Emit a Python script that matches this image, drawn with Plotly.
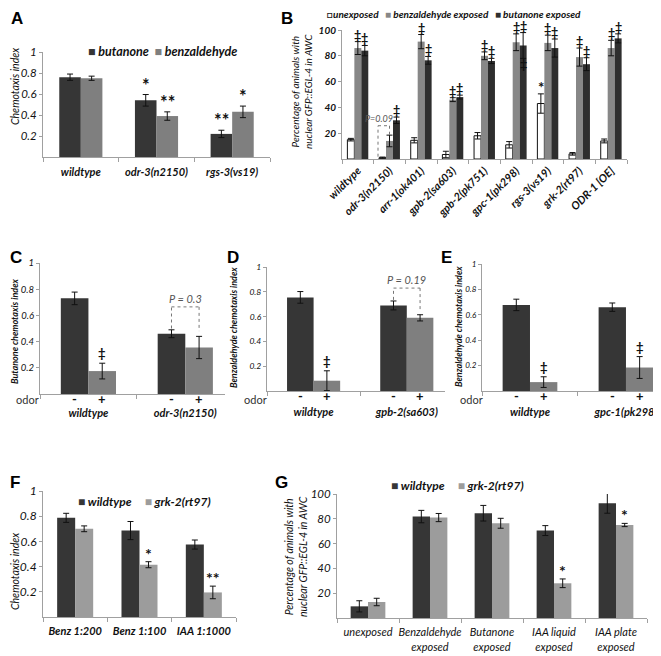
import plotly.graph_objects as go

# ---------------- data ----------------
A_CATS = ["wildtype", "odr-3(n2150)", "rgs-3(vs19)"]
A_BUTANONE = [0.76, 0.54, 0.22]
A_BUTANONE_ERR = [0.03, 0.055, 0.035]
A_BENZ = [0.75, 0.39, 0.43]
A_BENZ_ERR = [0.02, 0.04, 0.055]
A_BUTANONE_SIG = ["", "*", "**"]
A_BENZ_SIG = ["", "**", "*"]

B_CATS = ["wildtype", "odr-3(n2150)", "arr-1(ok401)", "gpb-2(sa603)", "gpb-2(pk751)",
          "gpc-1(pk298)", "rgs-3(vs19)", "grk-2(rt97)", "ODR-1 [OE]"]
B_UNEXP = [15, 1, 14.5, 3.5, 18, 11, 43, 4, 14]
B_UNEXP_ERR = [1, 0.5, 2, 2.5, 2.5, 2.5, 7.5, 1, 1.5]
B_BENZ = [86, 14, 91, 46, 80, 90.5, 90, 79, 86]
B_BENZ_ERR = [5, 4.5, 5.5, 1.5, 3, 6.5, 6, 7, 6]
B_BUT = [84, 30, 76.5, 48, 76, 88, 86, 73.5, 93.5]
B_BUT_ERR = [4, 2.5, 3, 1.5, 2, 10, 7, 5, 3.5]
B_UNEXP_SIG = ["", "", "", "", "", "", "*", "", ""]
B_BENZ_SIG = ["‡", "", "‡", "‡", "‡", "‡", "‡", "‡", "‡"]
B_BUT_SIG = ["‡", "‡", "‡", "‡", "‡", "‡", "‡", "‡", "‡"]
B_P = "P=0.09"

C_CATS = ["wildtype", "odr-3(n2150)"]
C_MINUS = [0.73, 0.46]
C_MINUS_ERR = [0.048, 0.03]
C_PLUS = [0.175, 0.355]
C_PLUS_ERR = [0.06, 0.085]
C_PLUS_SIG = ["‡", ""]
C_P = "P = 0.3"

D_CATS = ["wildtype", "gpb-2(sa603)"]
D_MINUS = [0.755, 0.69]
D_MINUS_ERR = [0.047, 0.036]
D_PLUS = [0.083, 0.59]
D_PLUS_ERR = [0.08, 0.025]
D_PLUS_SIG = ["‡", ""]
D_P = "P = 0.19"

E_CATS = ["wildtype", "gpc-1(pk298)"]
E_MINUS = [0.678, 0.66]
E_MINUS_ERR = [0.045, 0.033]
E_PLUS = [0.07, 0.185]
E_PLUS_ERR = [0.042, 0.086]
E_PLUS_SIG = ["‡", "‡"]

F_CATS = ["Benz 1:200", "Benz 1:100", "IAA 1:1000"]
F_WT = [0.787, 0.686, 0.575]
F_WT_ERR = [0.036, 0.072, 0.036]
F_GRK = [0.70, 0.415, 0.195]
F_GRK_ERR = [0.023, 0.024, 0.05]
F_GRK_SIG = ["", "*", "**"]

G_CATS = ["unexposed", "Benzaldehyde exposed", "Butanone exposed",
          "IAA liquid exposed", "IAA plate exposed"]
G_TICKTEXT = ["unexposed", "Benzaldehyde<br>exposed", "Butanone<br>exposed",
              "IAA liquid<br>exposed", "IAA plate<br>exposed"]
G_WT = [9.4, 81.8, 84.5, 70.5, 92.5]
G_WT_ERR = [4.5, 5, 6.3, 4, 8]
G_GRK = [12.9, 81, 76.4, 28, 75]
G_GRK_ERR = [3, 3.3, 4, 3.5, 1.3]
G_GRK_SIG = ["", "", "", "*", "*"]

IDX_TICKS = [0.2, 0.4, 0.6, 0.8, 1]
IDX_TICKTEXT = ["0.2", "0.4", "0.6", "0.8", "1"]
PCT_TICKS = [20, 40, 60, 80, 100]
PCT_TICKTEXT = ["20", "40", "60", "80", "100"]

# ---------------- style ----------------
PAGE_W, PAGE_H = 661, 656
BODY = 8  # default <body> margin of the page that write_html produces
W, H = PAGE_W - BODY, PAGE_H - BODY
FONT = "Lato"
INK = "#111111"
DARK = "#363636"
GRAY = "#7f7f7f"
LIGHT = "#9c9c9c"
B_GRAY = "#878787"
B_DARK = "#2e2e2e"
AXIS = "#a0a0a0"


def px(x):  # page pixel -> paper fraction
    return (x - BODY) / W


def py(y):
    return 1 - (y - BODY) / H


def f(size, bold=False, italic=True, color=INK):
    return dict(family=FONT, size=size, color=color,
                weight="bold" if bold else "normal",
                style="italic" if italic else "normal")


def ax_id(n):
    return "" if n == 1 else str(n)


fig = go.Figure()


def add_bar(n, cats, vals, errs, color, offset, width, outline=None):
    a = ax_id(n)
    fig.add_trace(go.Bar(
        x=cats, y=vals, xaxis="x" + a, yaxis="y" + a,
        offset=offset, width=width,
        marker=dict(color=color,
                    line=dict(color=outline or color, width=1 if outline else 0)),
        error_y=dict(type="data", array=errs, color=INK, thickness=1, width=3),
        showlegend=False))


def add_sig(n, labels, vals, errs, center, size, yshift=-3):
    a = ax_id(n)
    for i, (t, v, e) in enumerate(zip(labels, vals, errs)):
        if t:
            fig.add_annotation(x=i + center, y=v + e, xref="x" + a, yref="y" + a,
                               text=t, showarrow=False, yanchor="bottom",
                               yshift=yshift, font=f(size, bold=True, italic=False))


def add_axes(n, xpx, ypx, cats, xmax, ticks, ticktext, xfont, yfont,
             tickangle=0, standoff=0, xticktext=None):
    a = ax_id(n)
    xa = dict(domain=[px(xpx[0]), min(px(xpx[1]), 1)], anchor="y" + a, type="category",
              categoryorder="array", categoryarray=cats, range=[-0.5, xmax],
              showline=True, linecolor=AXIS, linewidth=1, ticks="outside",
              tickson="boundaries", ticklen=4, tickcolor=AXIS, showgrid=False,
              zeroline=False, tickfont=xfont, tickangle=tickangle,
              ticklabelstandoff=standoff, automargin=False, fixedrange=True)
    if xticktext is not None:
        xa.update(tickmode="array", tickvals=cats, ticktext=xticktext)
    ya = dict(domain=[py(ypx[1]), py(ypx[0])], anchor="x" + a,
              range=[0, ticks[-1]], tickmode="array", tickvals=ticks, ticktext=ticktext,
              showline=True, linecolor=AXIS, linewidth=1, ticks="outside", ticklen=3,
              tickcolor=AXIS, showgrid=False, zeroline=False, tickfont=yfont,
              automargin=False, fixedrange=True)
    fig.update_layout({"xaxis" + a: xa, "yaxis" + a: ya})


def paper_text(x, y, text, font, angle=0, xanchor="center"):
    fig.add_annotation(x=px(x), y=py(y), xref="paper", yref="paper", text=text,
                       showarrow=False, textangle=angle, xanchor=xanchor,
                       yanchor="middle", font=font)


def bracket(n, x0, x1, y0, ytop, y1, label, size, lx=None):
    a = ax_id(n)
    line = dict(color="#777777", width=1, dash="dot")
    for xs, ys in (((x0, x0), (y0, ytop)), ((x0, x1), (ytop, ytop)), ((x1, x1), (ytop, y1))):
        fig.add_shape(type="line", xref="x" + a, yref="y" + a, x0=xs[0], x1=xs[1],
                      y0=ys[0], y1=ys[1], line=line)
    fig.add_annotation(x=(x0 + x1) / 2 if lx is None else lx, y=ytop, xref="x" + a,
                       yref="y" + a, text=label, showarrow=False, yanchor="bottom",
                       font=f(size, italic=True, color="#555555"))


def legend_key(x, y, items, size):
    parts = []
    for glyph, color, label in items:
        parts.append(f'<span style="color:{color}">{glyph}</span>{label}')
    paper_text(x, y, " ".join(parts), f(size, bold=True), xanchor="left")


def odor_row(n, cats, odor_x, w):
    a = ax_id(n)
    for i in range(len(cats)):
        for sign, dxp in (("-", -w / 2), ("+", w / 2)):
            fig.add_annotation(x=i + dxp, y=0, xref="x" + a, yref="y" + a, text=sign,
                               showarrow=False, yanchor="middle", yshift=-5,
                               font=f(13, bold=True, italic=False))
    paper_text(odor_x, 399, "odor", f(11, italic=False, color="#333333"))


BW = 0.285

# ---------------- A ----------------
add_bar(1, A_CATS, A_BUTANONE, A_BUTANONE_ERR, DARK, -BW, BW)
add_bar(1, A_CATS, A_BENZ, A_BENZ_ERR, GRAY, 0, BW)
add_sig(1, A_BUTANONE_SIG, A_BUTANONE, A_BUTANONE_ERR, -BW / 2, 18)
add_sig(1, A_BENZ_SIG, A_BENZ, A_BENZ_ERR, BW / 2, 18)
add_axes(1, (43, 270), (52, 157), A_CATS, 2.5, IDX_TICKS, IDX_TICKTEXT,
         f(11, bold=True), f(11.5), standoff=5)
paper_text(15, 87, "Chemotaxis index", f(10.5), angle=-90)
legend_key(86, 52, [("■", DARK, " butanone "), ("■", GRAY, " benzaldehyde")], 12.5)

# ---------------- B ----------------
BB = 0.22
add_bar(2, B_CATS, B_UNEXP, B_UNEXP_ERR, "white", -1.5 * BB, BB, outline=INK)
add_bar(2, B_CATS, B_BENZ, B_BENZ_ERR, B_GRAY, -0.5 * BB, BB)
add_bar(2, B_CATS, B_BUT, B_BUT_ERR, B_DARK, 0.5 * BB, BB)
add_sig(2, B_UNEXP_SIG, B_UNEXP, B_UNEXP_ERR, -BB, 15, yshift=-4)
add_sig(2, B_BENZ_SIG, B_BENZ, B_BENZ_ERR, 0, 12.5, yshift=-3)
add_sig(2, B_BUT_SIG, B_BUT, B_BUT_ERR, BB, 12.5, yshift=-3)
fig.add_annotation(x=5 + BB, y=73, xref="x2", yref="y2", text="‡", showarrow=False,
                   font=f(12.5, bold=True, italic=False))
add_axes(2, (342, 627), (30, 159), B_CATS, 8.5, PCT_TICKS, PCT_TICKTEXT,
         f(11, bold=True), f(10, bold=True), tickangle=-45)
paper_text(301, 92, "Percentage of animals with<br>nuclear GFP::EGL-4 in AWC",
           f(10), angle=-90)
legend_key(325, 14.5, [("□", INK, "unexposed  "), ("■", B_GRAY, " benzaldehyde exposed  "),
                       ("■", B_DARK, " butanone exposed")], 10)
bracket(2, 1 - 1.65 * BB, 1, 1.8, 25.8, 17.3, B_P, 9, lx=0.66)

# ---------------- C ----------------
add_bar(3, C_CATS, C_MINUS, C_MINUS_ERR, DARK, -BW, BW)
add_bar(3, C_CATS, C_PLUS, C_PLUS_ERR, GRAY, 0, BW)
add_sig(3, C_PLUS_SIG, C_PLUS, C_PLUS_ERR, BW / 2, 13, yshift=0)
add_axes(3, (40, 225), (263, 394), C_CATS, 1.41, IDX_TICKS, IDX_TICKTEXT,
         f(11, bold=True), f(9.5), standoff=9)
paper_text(14, 331, "Butanone chemotaxis index", f(9, bold=True), angle=-90)
odor_row(3, C_CATS, 27, BW)
bracket(3, 1 - BW / 2, 1 + BW / 2, 0.5, 0.665, 0.48, C_P, 11)

# ---------------- D ----------------
add_bar(4, D_CATS, D_MINUS, D_MINUS_ERR, DARK, -BW, BW)
add_bar(4, D_CATS, D_PLUS, D_PLUS_ERR, GRAY, 0, BW)
add_sig(4, D_PLUS_SIG, D_PLUS, D_PLUS_ERR, BW / 2, 13, yshift=0)
add_axes(4, (267, 445), (267, 391), D_CATS, 1.41, IDX_TICKS, IDX_TICKTEXT,
         f(11, bold=True), f(8.5), standoff=11)
paper_text(233, 328, "Benzaldehyde chemotaxis index", f(9, bold=True), angle=-90)
odor_row(4, D_CATS, 255, BW)
bracket(4, 1 - BW / 2, 1 + BW / 2, 0.735, 0.83, 0.637, D_P, 11)

# ---------------- E ----------------
add_bar(5, E_CATS, E_MINUS, E_MINUS_ERR, DARK, -BW, BW)
add_bar(5, E_CATS, E_PLUS, E_PLUS_ERR, GRAY, 0, BW)
add_sig(5, E_PLUS_SIG, E_PLUS, E_PLUS_ERR, BW / 2, 13, yshift=0)
add_axes(5, (482, 661), (264, 391), E_CATS, 1.365, IDX_TICKS, IDX_TICKTEXT,
         f(11, bold=True), f(8), standoff=11)
paper_text(458, 327, "Benzaldehyde chemotaxis index", f(9, bold=True), angle=-90)
odor_row(5, E_CATS, 471, BW)

# ---------------- F ----------------
FW = 0.28
add_bar(6, F_CATS, F_WT, F_WT_ERR, DARK, -FW, FW)
add_bar(6, F_CATS, F_GRK, F_GRK_ERR, LIGHT, 0, FW)
add_sig(6, F_GRK_SIG, F_GRK, F_GRK_ERR, FW / 2, 16)
add_axes(6, (43, 236), (491, 617), F_CATS, 2.5, IDX_TICKS, IDX_TICKTEXT,
         f(11, bold=True), f(12), standoff=4)
paper_text(15, 572, "Chemotaxis index", f(10.5), angle=-90)
legend_key(76, 501, [("■", DARK, " wildtype    "), ("■", LIGHT, " grk-2(rt97)")], 12)

# ---------------- G ----------------
add_bar(7, G_CATS, G_WT, G_WT_ERR, DARK, -FW, FW)
add_bar(7, G_CATS, G_GRK, G_GRK_ERR, LIGHT, 0, FW)
add_sig(7, G_GRK_SIG, G_GRK, G_GRK_ERR, FW / 2, 16)
add_axes(7, (337, 647), (494, 618), G_CATS, 4.5, PCT_TICKS, PCT_TICKTEXT,
         f(11), f(11.5), standoff=4, xticktext=G_TICKTEXT)
paper_text(296, 557, "Percentage of animals with<br>nuclear GFP::EGL-4 in AWC",
           f(10.5), angle=-90)
legend_key(389, 485, [("■", DARK, " wildtype    "), ("■", LIGHT, " grk-2(rt97)")], 12)

# ---------------- panel letters ----------------
for letter, x, y in (("A", 9, 19), ("B", 279, 19), ("C", 8, 257), ("D", 225, 257),
                     ("E", 439, 257), ("F", 8, 482), ("G", 273, 482)):
    paper_text(x, y, letter, dict(family="Liberation Sans", size=17, color="#000000",
                                  weight="bold"), xanchor="left")

fig.update_layout(template="none", width=W, height=H,
                  margin=dict(l=0, r=0, t=0, b=0, pad=0),
                  paper_bgcolor="white", plot_bgcolor="white", showlegend=False,
                  barmode="group", font=dict(family=FONT, color=INK))

fig.write_html("out.html")
